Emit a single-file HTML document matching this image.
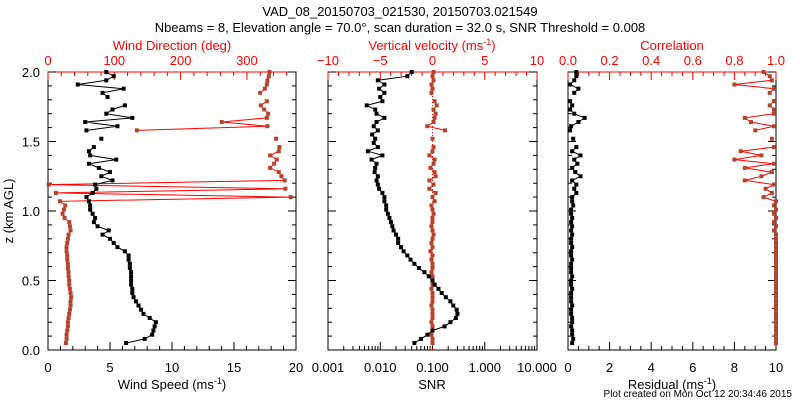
<!DOCTYPE html>
<html><head><meta charset="utf-8"><style>
body{margin:0;background:#fff}
svg{display:block;font-family:"Liberation Sans",sans-serif}
</style></head><body>
<svg id="c" width="800" height="400" viewBox="0 0 800 400"></svg>
<script>
const zVals=[];for(let i=0;i<66;i++)zVals.push(+(0.05+0.03*i).toFixed(2));
const windSpeed=[6.3,7.8,8.4,8.5,8.6,8.7,8.2,7.7,7.5,7.3,7.1,6.9,6.8,6.8,6.7,6.7,6.7,6.7,6.6,6.6,6.5,6.5,6.2,5.6,5.3,5.0,4.4,4.9,4.0,3.7,3.8,3.6,3.4,3.4,3.3,3.1,3.6,3.9,3.8,5.2,4.3,5.0,4.1,3.3,5.5,3.4,3.3,3.7,null,4.3,null,3.1,5.6,3.0,6.8,4.7,5.2,6.2,null,4.8,4.4,6.1,2.4,4.7,5.3,4.7];
const windDir=[27,28,28,29,30,30,31,32,33,34,34,35,34,33,32,32,31,31,30,30,29,29,28,28,29,30,31,34,33,32,25,22,24,26,18,366,12,358,1,357,352,348,335,341,345,335,348,349,null,344,null,134,331,262,330,332,326,321,330,null,320,327,330,331,333,334];
const snr=[0.045,0.06,0.08,0.1,0.17,0.22,0.28,0.3,0.29,0.25,0.22,0.18,0.15,0.13,0.11,0.1,0.085,0.07,0.055,0.045,0.038,0.033,0.028,0.025,0.022,0.022,0.02,0.018,0.017,0.016,0.015,0.014,0.013,0.013,0.012,0.012,0.011,0.0095,0.009,0.0085,0.009,0.0078,0.008,0.0085,0.0068,0.011,0.0058,0.009,0.0075,0.008,0.007,0.009,0.0075,0.0085,0.012,0.0085,0.008,0.0055,0.011,0.01,0.012,0.0095,0.012,0.009,0.033,0.04];
const vertVel=[0,0,-0.1,0,0,-0.1,0,0,0,-0.1,0,0,0,-0.1,0,0,0,-0.1,0,0,-0.1,0,-0.2,0,-0.1,0,0.1,0,-0.1,0,0,0.1,0,-0.1,0.2,0,0.3,-0.3,0.1,-0.3,0.3,0.2,-0.2,0.1,0.2,-0.3,0,0.1,null,0,null,1.2,-0.5,0.1,0.2,0.3,0.1,0.4,0.2,null,-0.1,0,-0.1,0.1,0,0.1];
const residual=[0.2,0.25,0.2,0.2,0.15,0.2,0.2,0.15,0.15,0.2,0.15,0.15,0.15,0.2,0.15,0.15,0.2,0.15,0.15,0.15,0.2,0.15,0.15,0.2,0.15,0.15,0.2,0.15,0.2,0.15,0.2,0.15,0.15,0.25,0.2,0.2,0.4,0.3,0.4,0.2,0.6,0.35,0.2,0.45,0.3,0.6,0.2,0.4,null,0.25,null,0.1,0.15,0.5,0.8,0.3,0.1,0.2,0.1,null,0.3,0.5,0.1,0.3,0.4,0.4];
const correl=[1,1,1,1,1,1,1,1,1,1,1,1,1,1,1,1,1,1,1,1,1,1,1,1,1,1,1,0.99,1,0.99,1,0.99,1,0.99,1,0.94,0.98,0.95,0.99,0.85,0.93,0.98,0.85,0.99,0.8,0.93,0.83,0.99,null,0.98,null,0.9,0.99,0.88,0.85,0.99,0.99,0.97,0.99,null,0.97,0.99,0.8,0.98,0.97,0.94];
const snrTicks=["0.001","0.010","0.100","1.000","10.000"];
const NS="http://www.w3.org/2000/svg",svg=document.getElementById('c');
function el(t,a,p){const e=document.createElementNS(NS,t);for(const k in a)e.setAttribute(k,a[k]);(p||svg).appendChild(e);return e;}
function txt(s,x,y,a,p){const e=el('text',Object.assign({x:x,y:y,'font-size':13,'text-anchor':'middle',fill:'#000'},a),p);e.textContent=s;return e;}
const Y0=350,Y1=72;const yz=z=>Y0-(z/2)*(Y0-Y1);
const P=[{x0:48,x1:296},{x0:328,x1:537},{x0:568,x1:776}];
const t1=txt('VAD_08_20150703_021530, 20150703.021549',400,16,{});

const t2=txt('Nbeams = 8, Elevation angle = 70.0°, scan duration = 32.0 s, SNR Threshold = 0.008',400,32,{});

function frame(p,name){const g=el('g',{});
 el('rect',{x:p.x0,y:Y1,width:p.x1-p.x0,height:Y0-Y1,fill:'none',stroke:'#000'},g);
 el('line',{x1:p.x0,y1:Y1,x2:p.x1,y2:Y1,stroke:'#f00'},g);
 for(let z=0;z<=2.001;z+=0.1){const y=yz(z),L=(Math.round(z*10)%5==0)?8:4;
  el('line',{x1:p.x0,y1:y,x2:p.x0+L,y2:y,stroke:'#000'},g);el('line',{x1:p.x1,y1:y,x2:p.x1-L,y2:y,stroke:'#000'},g);}
 return g;}
function xTicks(g,p,vals,fx,minor,bottom,col){for(const v of minor){const x=fx(v);el('line',{x1:x,y1:bottom?Y0:Y1,x2:x,y2:bottom?Y0-4:Y1+4,stroke:col},g);}
 for(const v of vals){const x=fx(v);el('line',{x1:x,y1:bottom?Y0:Y1,x2:x,y2:bottom?Y0-8:Y1+8,stroke:col},g);}}
function series(g,fx,vals,col,lcol,name){const gg=el('g',{},g);
 let d='',pen=false;vals.forEach((v,i)=>{if(v==null){pen=false;return;}const x=fx(v),y=yz(zVals[i]);d+=(pen?'L':'M')+x.toFixed(1)+' '+y.toFixed(1);pen=true;});
 el('path',{d:d,fill:'none',stroke:lcol,'stroke-width':1},gg);
 vals.forEach((v,i)=>{if(v==null)return;const c=el('rect',{x:fx(v)-2,y:yz(zVals[i])-2,width:4,height:4,fill:col},gg);});}
// panel 1
const p1=P[0],g1=frame(p1,'wind-panel');
const fWS=v=>p1.x0+v/20*(p1.x1-p1.x0),fWD=v=>p1.x0+v/374*(p1.x1-p1.x0);
xTicks(g1,p1,[0,5,10,15,20],fWS,[1,2,3,4,6,7,8,9,11,12,13,14,16,17,18,19],true,'#000');
xTicks(g1,p1,[0,100,200,300],fWD,[20,40,60,80,120,140,160,180,220,240,260,280,320,340,360],false,'#f00');
[0,5,10,15,20].forEach(v=>txt(String(v),fWS(v),372,{},g1));
[0,100,200,300].forEach(v=>txt(String(v),fWD(v),65,{fill:'#f00'},g1));
['0.0','0.5','1.0','1.5','2.0'].forEach((s,i)=>txt(s,40,yz(i*0.5)+5,{'text-anchor':'end'},g1));
const yl=txt('z (km AGL)',0,0,{transform:'translate(13,211) rotate(-90)'},g1);
const xt1=el('text',{x:172,y:389,'font-size':13,'text-anchor':'middle'},g1);xt1.innerHTML='Wind Speed (ms<tspan dy="-5" font-size="9">-1</tspan><tspan dy="5">)</tspan>';
txt('Wind Direction (deg)',172,50,{fill:'#f00'},g1);
series(g1,fWD,windDir,'#b5422c','#f00','wind-direction-series');
series(g1,fWS,windSpeed,'#000','#000','wind-speed-series');
// panel 2
const p2=P[1],g2=frame(p2,'snr-panel');
const fS=v=>p2.x0+(Math.log10(v)+3)/4*(p2.x1-p2.x0),fV=v=>p2.x0+(v+10)/20*(p2.x1-p2.x0);
const mn=[];for(let e=-3;e<1;e++)for(let k=2;k<10;k++)mn.push(k*Math.pow(10,e));
xTicks(g2,p2,[0.001,0.01,0.1,1,10],fS,mn,true,'#000');
xTicks(g2,p2,[-10,-5,0,5,10],fV,[-9,-8,-7,-6,-4,-3,-2,-1,1,2,3,4,6,7,8,9],false,'#f00');
snrTicks.forEach(s=>txt(s,fS(+s),372,{},g2));
[-10,-5,0,5,10].forEach(v=>txt(v<0?'\u2212'+(-v):String(v),fV(v),65,{fill:'#f00'},g2));
txt('SNR',432,389,{},g2);
const vt=el('text',{x:432,y:50,'font-size':13,'text-anchor':'middle',fill:'#f00'},g2);vt.innerHTML='Vertical velocity (ms<tspan dy="-5" font-size="9">-1</tspan><tspan dy="5">)</tspan>';
el('line',{x1:fV(0),y1:Y1,x2:fV(0),y2:Y0,stroke:'#f00','stroke-dasharray':'1,2'},g2);
series(g2,fV,vertVel,'#b5422c','#f00','vertical-velocity-series');
series(g2,fS,snr,'#000','#000','snr-series');
// panel 3
const p3=P[2],g3=frame(p3,'residual-panel');
const fR=v=>p3.x0+v/10*(p3.x1-p3.x0),fC=v=>p3.x0+v*(p3.x1-p3.x0);
xTicks(g3,p3,[0,2,4,6,8,10],fR,[0.5,1,1.5,2.5,3,3.5,4.5,5,5.5,6.5,7,7.5,8.5,9,9.5],true,'#000');
xTicks(g3,p3,[0,0.2,0.4,0.6,0.8,1],fC,[0.05,0.1,0.15,0.25,0.3,0.35,0.45,0.5,0.55,0.65,0.7,0.75,0.85,0.9,0.95],false,'#f00');
[0,2,4,6,8,10].forEach(v=>txt(String(v),fR(v),372,{},g3));
[0,0.2,0.4,0.6,0.8,1].forEach(v=>txt(v.toFixed(1),fC(v),65,{fill:'#f00'},g3));
const xt3=el('text',{x:672,y:389,'font-size':13,'text-anchor':'middle'},g3);xt3.innerHTML='Residual (ms<tspan dy="-5" font-size="9">-1</tspan><tspan dy="5">)</tspan>';
txt('Correlation',672,50,{fill:'#f00'},g3);
series(g3,fC,correl,'#b5422c','#f00','correlation-series');
series(g3,fR,residual,'#000','#000','residual-series');
const ft=txt('Plot created on Mon Oct 12 20:34:46 2015',792,397,{'font-size':10,'text-anchor':'end'});

</script>
</body></html>
